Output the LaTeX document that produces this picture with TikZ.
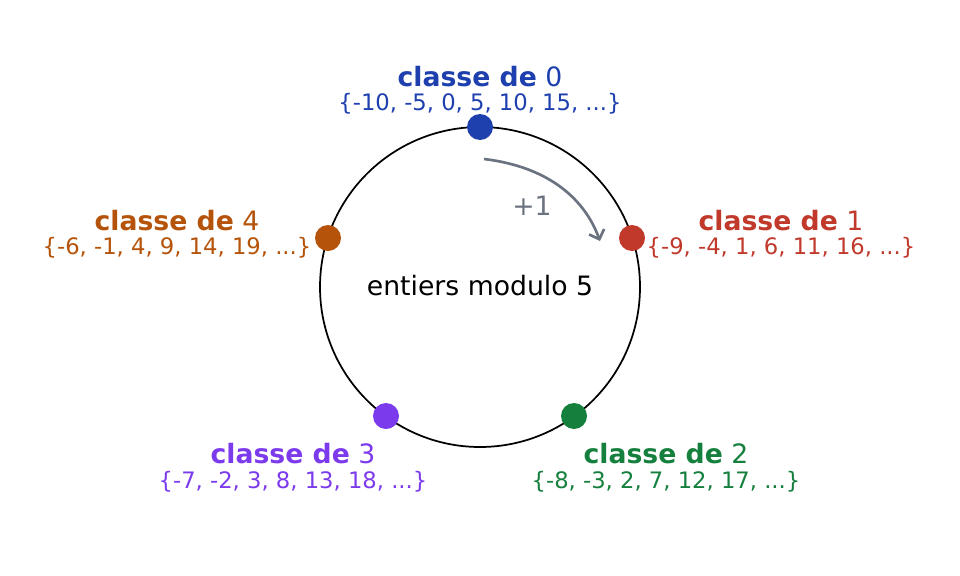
\documentclass[tikz,border=0pt]{standalone}
\usepackage{fontspec}
\setmainfont{DejaVu Sans}
\usetikzlibrary{arrows.meta}
\definecolor{cA}{HTML}{1E40AF}
\definecolor{cB}{HTML}{C0392B}
\definecolor{cC}{HTML}{15803D}
\definecolor{cD}{HTML}{7C3AED}
\definecolor{cE}{HTML}{B45309}
\definecolor{gr}{HTML}{6B7280}
\begin{document}
\begin{tikzpicture}[x=0.75pt,y=-0.75pt,
 dot/.style={circle,inner sep=0pt,minimum size=19.5pt},
 ttl/.style={font=\fontsize{20}{22}\selectfont,inner sep=0pt},
 st/.style={font=\fontsize{17}{19}\selectfont,inner sep=0pt}]
\useasboundingbox (0,0) rectangle (960,575);
\node[draw,circle,minimum size=240pt,inner sep=0pt,line width=1.3pt] (c) at (480,287) {};
\node[font=\fontsize{20}{22}\selectfont] (lab) at (480,286) {entiers modulo 5};
\node[dot,fill=cA] (p0) at (480,127) {};
\node[dot,fill=cB] (p1) at (632,238) {};
\node[dot,fill=cC] (p2) at (574,416) {};
\node[dot,fill=cD] (p3) at (386,416) {};
\node[dot,fill=cE] (p4) at (328,238) {};
\node[ttl,text=cA] (t0) at (480,77) {\textbf{classe de} 0};
\node[st,text=cA] (s0) at (480,104) {\{-10, -5, 0, 5, 10, 15, ...\}};
\node[ttl,text=cB] (t1) at (781,221) {\textbf{classe de} 1};
\node[st,text=cB] (s1) at (781,248) {\{-9, -4, 1, 6, 11, 16, ...\}};
\node[ttl,text=cC] (t2) at (666,454) {\textbf{classe de} 2};
\node[st,text=cC] (s2) at (666,482) {\{-8, -3, 2, 7, 12, 17, ...\}};
\node[ttl,text=cD] (t3) at (293,454) {\textbf{classe de} 3};
\node[st,text=cD] (s3) at (293,482) {\{-7, -2, 3, 8, 13, 18, ...\}};
\node[ttl,text=cE] (t4) at (177,221) {\textbf{classe de} 4};
\node[st,text=cE] (s4) at (177,248) {\{-6, -1, 4, 9, 14, 19, ...\}};
\coordinate (a0) at (484,159);
\coordinate (a1) at (600,241);
\draw[gr,line width=2pt,-{Straight Barb[length=6pt]}] (a0) .. controls (550,167) and (585,200) .. (a1);
\node[text=gr,font=\fontsize{20}{22}\selectfont] (pl) at (532,206) {+1};
\end{tikzpicture}
\end{document}
